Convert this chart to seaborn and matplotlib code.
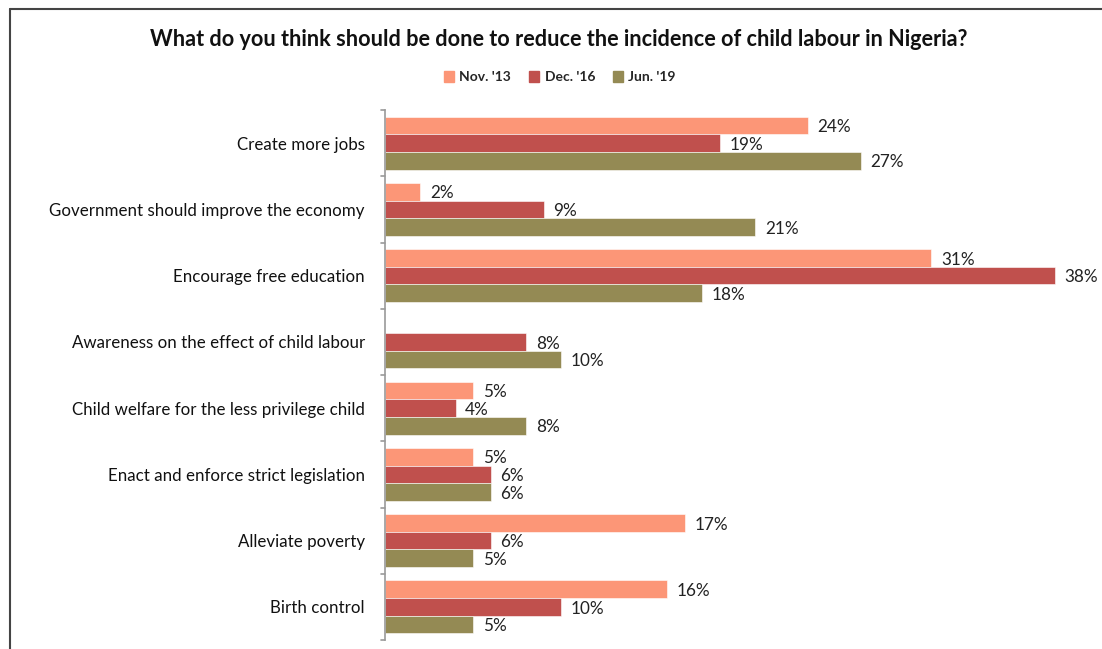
import matplotlib
matplotlib.use("Agg")
import matplotlib.pyplot as plt
import seaborn as sns
import pandas as pd
import numpy as np
from matplotlib.lines import Line2D

categories = [
    "Create more jobs",
    "Government should improve the economy",
    "Encourage free education",
    "Awareness on the effect of child labour",
    "Child welfare for the less privilege child",
    "Enact and enforce strict legislation",
    "Alleviate poverty",
    "Birth control",
]
series = ["Nov. '13", "Dec. '16", "Jun. '19"]
nov13 = [24, 2, 31, np.nan, 5, 5, 17, 16]
dec16 = [19, 9, 38, 8, 4, 6, 6, 10]
jun19 = [27, 21, 18, 10, 8, 6, 5, 5]
colors = ["#FC9677", "#C0504D", "#948A54"]
title = "What do you think should be done to reduce the incidence of child labour in Nigeria?"

rows = []
for s, vals in zip(series, [nov13, dec16, jun19]):
    for c, v in zip(categories, vals):
        rows.append({"cat": c, "series": s, "value": v})
df = pd.DataFrame(rows)

sns.set_theme(style="white")
plt.rcParams["font.family"] = ["Lato", "DejaVu Sans"]

fig = plt.figure(figsize=(11.02, 6.49), dpi=100)
ax = fig.add_axes([385 / 1102, 1 - 640 / 649, (1090 - 385) / 1102, (640 - 110) / 649])

sns.barplot(data=df, y="cat", x="value", hue="series", order=categories,
            hue_order=series, palette=colors, orient="h", width=0.8,
            ax=ax, legend=False, saturation=1, edgecolor="white", linewidth=0.4)

ax.set_xlim(0, 40)
ax.set_ylim(len(categories) - 0.5, -0.5)
ax.set_xlabel("")
ax.set_ylabel("")
ax.set_xticks([])

for cont in ax.containers:
    labels = []
    for bar in cont:
        w = bar.get_width()
        labels.append("" if (w is None or np.isnan(w)) else f"{w:.0f}%")
    texts = ax.bar_label(cont, labels=labels, padding=7, fontsize=12.3, color="#222222")
    for t in texts:
        x, y = t.xyann
        t.xyann = (x, y - 1.2)

for sp in ["top", "right", "bottom"]:
    ax.spines[sp].set_visible(False)
ax.spines["left"].set_color("#9a9a9a")
ax.spines["left"].set_linewidth(1.2)

# category labels and boundary ticks
ax.set_yticks(range(len(categories)))
ax.set_yticklabels(categories, fontsize=12.2, color="#111111")
ax.tick_params(axis="y", length=0, pad=14.5)
for b in np.arange(-0.5, len(categories) + 0.5, 1):
    ax.plot([-0.22, 0], [b, b], color="#9a9a9a", lw=1.2, clip_on=False)

fig.text(559 / 1102, 1 - 40 / 649, title, ha="center", va="center", fontsize=15.6,
         fontweight="bold", color="#111111")

handles = [plt.Rectangle((0, 0), 1, 1, color=c) for c in colors]
fig.legend(handles, series, loc="center", bbox_to_anchor=(560 / 1102, 1 - 77 / 649),
           ncol=3, frameon=False, prop={"weight": "bold", "size": 10},
           handlelength=0.7, handleheight=0.9, handletextpad=0.4, columnspacing=1.3)

# outer border (top and left)
fig.add_artist(Line2D([10 / 1102, 1], [1 - 9 / 649, 1 - 9 / 649], color="#444444", lw=1.5,
                      transform=fig.transFigure))
fig.add_artist(Line2D([10 / 1102, 10 / 1102], [0, 1 - 9 / 649], color="#444444", lw=1.5,
                      transform=fig.transFigure))

fig.savefig("out.png", dpi=100, facecolor="white")
